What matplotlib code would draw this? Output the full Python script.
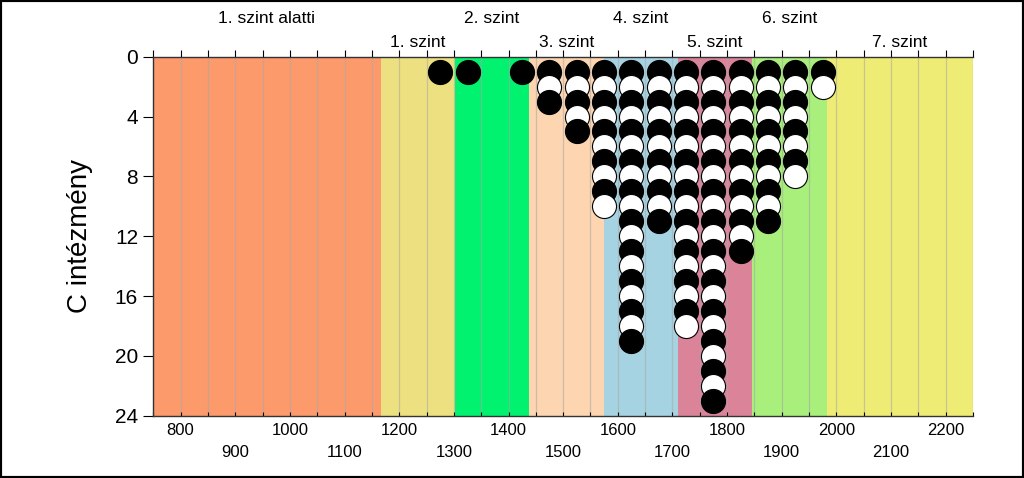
import matplotlib
matplotlib.use("Agg")
import matplotlib.pyplot as plt
from matplotlib.patches import Rectangle
from matplotlib.ticker import FuncFormatter
import numpy as np

plt.rcParams['font.family'] = ['Liberation Sans', 'DejaVu Sans']

# szintek határai és nevei
level_edges = [750, 1166, 1302, 1438, 1574, 1710, 1846, 1982, 2250]
level_names = ['1. szint alatti', '1. szint', '2. szint', '3. szint',
               '4. szint', '5. szint', '6. szint', '7. szint']
level_colors = ['#FC9A6B', '#EDE080', '#00F26E', '#FDD5B0',
                '#A6D3E2', '#DA8399', '#A8EF7B', '#EEEC75']

# pontszám-oszlopok és tanulók száma
score_bins = [1275, 1325, 1425, 1475, 1525, 1575, 1625, 1675,
              1725, 1775, 1825, 1875, 1925, 1975]
counts = [1, 1, 1, 3, 5, 10, 19, 11, 18, 23, 13, 11, 8, 2]

fig = plt.figure(figsize=(10.24, 4.78), dpi=100)
ax = fig.add_axes([0.1497, 0.1303, 0.8005, 0.7511])

# színes sávok
for i in range(len(level_names)):
    ax.axvspan(level_edges[i], level_edges[i + 1], color=level_colors[i],
               lw=0, zorder=0.2)

# körök: páratlan fekete, páros fehér
for x, n in zip(score_bins, counts):
    for k in range(1, n + 1):
        fc = 'black' if k % 2 == 1 else 'white'
        ax.scatter([x], [k], s=300, facecolor=fc, edgecolor='black',
                   linewidth=0.8, zorder=3)

ax.set_xlim(750, 2250)
ax.set_ylim(24, 0)

# szint feliratok felül
for i, name in enumerate(level_names):
    xm = (level_edges[i] + level_edges[i + 1]) / 2
    yy = 1.093 if i % 2 == 0 else 1.028
    ax.text(xm, yy, name, transform=ax.get_xaxis_transform(),
            ha='center', va='baseline', fontsize=12.5)

xt = np.arange(750, 2251, 50)
ax.set_xticks(xt)

def fmt(v, pos):
    v = int(round(v))
    if v % 200 == 0:
        return str(v)
    if v % 100 == 0:
        return '\n' + str(v)
    return ''

ax.xaxis.set_major_formatter(FuncFormatter(fmt))
for lab in ax.get_xticklabels():
    lab.set_linespacing(1.6)

ax.set_yticks(np.arange(0, 25, 4))
ax.tick_params(axis='y', direction='out', length=7, labelsize=15, pad=4)
ax.tick_params(axis='x', direction='in', length=3, labelsize=12, pad=5,
               top=True)
ax.xaxis.set_tick_params(which='major', labeltop=False)

# felső tickek kifelé
for t in ax.xaxis.get_major_ticks():
    t.tick2line.set_marker(2)
    t.tick2line.set_markersize(5)

ax.grid(axis='x', color='#A8A8A8', lw=0.9, alpha=0.55)
ax.set_axisbelow(True)
for gl in ax.get_xgridlines():
    gl.set_zorder(0.5)

ax.spines['right'].set_visible(False)
for s in ['left', 'top', 'bottom']:
    ax.spines[s].set_linewidth(1)
    ax.spines[s].set_color('#333333')

ax.set_ylabel('C intézmény', fontsize=20)
ax.yaxis.set_label_coords(-0.073, 0.5)

fig.patches.append(Rectangle((0, 0), 1, 1, transform=fig.transFigure,
                             fill=False, edgecolor='black', lw=3))

plt.savefig('out.png', dpi=100)
